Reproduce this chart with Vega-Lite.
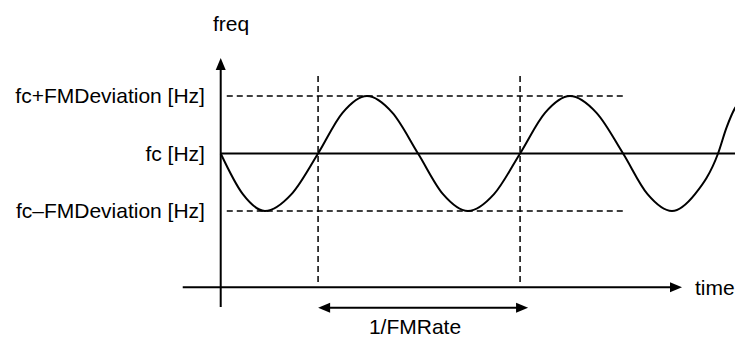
{
  "$schema": "https://vega.github.io/schema/vega-lite/v6.json",
  "width": 735,
  "height": 338,
  "autosize": "none",
  "padding": 0,
  "background": "white",
  "config": {"view": {"stroke": null}},
  "datasets": {
    "sine": [
      {"t": 0, "f": 0}, {"t": 0.1095, "f": -0.707}, {"t": 0.219, "f": -1}, {"t": 0.3505, "f": -0.707},
      {"t": 0.482, "f": 0}, {"t": 0.603, "f": 0.707}, {"t": 0.724, "f": 1}, {"t": 0.8505, "f": 0.707},
      {"t": 0.977, "f": 0}, {"t": 1.1005, "f": -0.707}, {"t": 1.224, "f": -1}, {"t": 1.353, "f": -0.707},
      {"t": 1.482, "f": 0}, {"t": 1.6055, "f": 0.707}, {"t": 1.729, "f": 1}, {"t": 1.8605, "f": 0.707},
      {"t": 1.992, "f": 0}, {"t": 2.113, "f": -0.707}, {"t": 2.234, "f": -1}, {"t": 2.348, "f": -0.707},
      {"t": 2.462, "f": 0}, {"t": 2.504, "f": 0.45}, {"t": 2.546, "f": 0.79}, {"t": 2.6, "f": 0.98}
    ],
    "solid": [
      {"name": "freq axis", "t": 0, "t2": 0, "f": -2.67, "f2": 1.557},
      {"name": "time axis", "t": -0.188, "t2": 2.254, "f": -2.327, "f2": -2.327},
      {"name": "fc", "t": 0, "t2": 2.6, "f": 0, "f2": 0},
      {"name": "period", "t": 0.512, "t2": 1.492, "f": -2.682, "f2": -2.682}
    ],
    "dashed": [
      {"name": "fc+dev", "t": 0.03, "t2": 2.0, "f": 1, "f2": 1},
      {"name": "fc-dev", "t": 0.03, "t2": 2.0, "f": -1, "f2": -1},
      {"name": "period start", "t": 0.482, "t2": 0.482, "f": 1.348, "f2": -2.27},
      {"name": "period end", "t": 1.482, "t2": 1.482, "f": 1.348, "f2": -2.27}
    ],
    "heads": [
      {"t": 0, "f": 1.557, "dir": "up"},
      {"t": 2.254, "f": -2.327, "dir": "right"},
      {"t": 0.512, "f": -2.682, "dir": "left"},
      {"t": 1.492, "f": -2.682, "dir": "right"}
    ],
    "labelsR": [
      {"t": -0.078, "f": 1, "label": "fc+FMDeviation [Hz]"},
      {"t": -0.078, "f": 0, "label": "fc [Hz]"},
      {"t": -0.078, "f": -1, "label": "fc–FMDeviation [Hz]"}
    ],
    "labelsC": [
      {"t": 0.051, "f": 2.235, "label": "freq"},
      {"t": 0.962, "f": -3.035, "label": "1/FMRate"}
    ],
    "labelsL": [
      {"t": 2.348, "f": -2.327, "label": "time"}
    ]
  },
  "encoding": {
    "x": {"field": "t", "type": "quantitative", "scale": {"domain": [-1.0926, 2.546], "nice": false, "zero": false}, "axis": null},
    "y": {"field": "f", "type": "quantitative", "scale": {"domain": [-3.209, 2.67], "nice": false, "zero": false}, "axis": null}
  },
  "layer": [
    {
      "data": {"name": "dashed"},
      "mark": {"type": "rule", "color": "#000000", "strokeWidth": 1.5, "strokeDash": [6, 4], "strokeCap": "butt"},
      "encoding": {"x2": {"field": "t2"}, "y2": {"field": "f2"}}
    },
    {
      "data": {"name": "solid"},
      "mark": {"type": "rule", "color": "#000000", "strokeWidth": 2, "strokeCap": "butt"},
      "encoding": {"x2": {"field": "t2"}, "y2": {"field": "f2"}}
    },
    {
      "data": {"name": "sine"},
      "mark": {"type": "line", "color": "#000000", "strokeWidth": 2, "interpolate": "monotone", "clip": true},
      "encoding": {"order": {"field": "t", "type": "quantitative"}}
    },
    {
      "data": {"name": "heads"},
      "mark": {"type": "point", "filled": true, "color": "#000000", "opacity": 1, "size": 144},
      "encoding": {
        "shape": {"field": "dir", "type": "nominal", "legend": null,
          "scale": {"domain": ["up", "right", "left"], "range": ["M0,-1L0.833,1L-0.833,1Z", "M1,0L-1,-0.833L-1,0.833Z", "M-1,0L1,-0.833L1,0.833Z"]}}
      }
    },
    {
      "data": {"name": "labelsR"},
      "mark": {"type": "text", "align": "right", "baseline": "middle", "font": "Liberation Sans", "fontSize": 21, "color": "#000000", "dy": 1},
      "encoding": {"text": {"field": "label"}}
    },
    {
      "data": {"name": "labelsC"},
      "mark": {"type": "text", "align": "center", "baseline": "middle", "font": "Liberation Sans", "fontSize": 21, "color": "#000000"},
      "encoding": {"text": {"field": "label"}}
    },
    {
      "data": {"name": "labelsL"},
      "mark": {"type": "text", "align": "left", "baseline": "middle", "font": "Liberation Sans", "fontSize": 21, "color": "#000000", "dy": 2},
      "encoding": {"text": {"field": "label"}}
    }
  ]
}
